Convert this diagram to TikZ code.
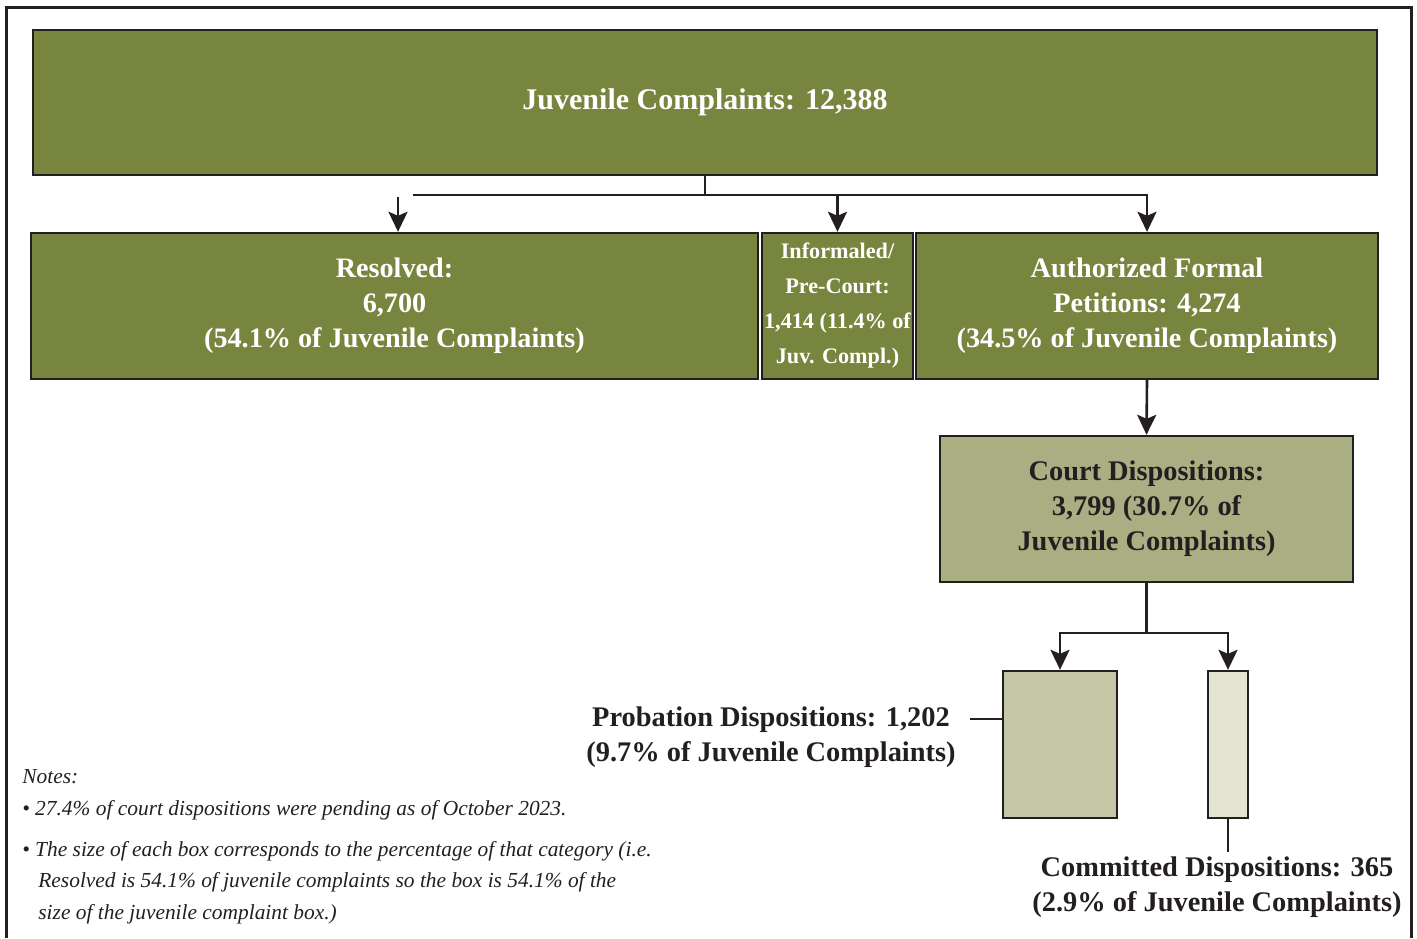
\documentclass[tikz,border=0pt]{standalone}
\usepackage{fontspec}
\setmainfont{Liberation Serif}
\usetikzlibrary{arrows.meta}

\definecolor{inkdark}{HTML}{231F20}
\definecolor{compgreen}{HTML}{78853E}
\definecolor{courtgreen}{HTML}{A9AF82}
\definecolor{probgreen}{HTML}{C5C7A7}
\definecolor{commitgreen}{HTML}{E2E3D3}

\tikzset{
  box/.style={draw=inkdark, line width=1.2pt, inner sep=0pt, align=center},
  bigbox/.style={box, fill=compgreen, text=white, font=\bfseries\fontsize{14.1}{17.5}\selectfont},
  smallbox/.style={box, fill=compgreen, text=white, font=\bfseries\fontsize{11.1}{17.5}\selectfont},
  courtbox/.style={box, fill=courtgreen, text=inkdark, font=\bfseries\fontsize{14.2}{17.5}\selectfont},
  outtext/.style={align=center, inner sep=0pt, text=inkdark, font=\bfseries\fontsize{14.2}{17.5}\selectfont},
  notetext/.style={anchor=base west, inner sep=0pt, text=inkdark, font=\itshape\fontsize{10.7}{16}\selectfont},
  link/.style={draw=inkdark, line width=1.3pt},
  arr/.style={link, -{Stealth[length=10pt, width=9.5pt, inset=2pt]}},
  frame/.style={draw=inkdark, line width=1.5pt}
}

\begin{document}
\begin{tikzpicture}[x=0.5pt,y=-0.5pt]
\useasboundingbox (0,0) rectangle (1417,938);
\draw[frame] (6,938) -- (6,7) -- (1411,7) -- (1411,938);

\node[bigbox, font=\bfseries\fontsize{15}{17.5}\selectfont, minimum width=672pt, minimum height=72.5pt] (complaints) at (705,102.5) {Juvenile Complaints: 12,388};
\node[bigbox, minimum width=363.5pt, minimum height=73pt] (resolved) at (394.5,306) {Resolved:\\6,700\\(54.1\% of Juvenile Complaints)};
\node[smallbox, minimum width=75.5pt, minimum height=73pt] (pre) at (837.5,306) {Informaled/\\Pre-Court:\\1,414 (11.4\% of\\Juv. Compl.)};
\node[bigbox, minimum width=231pt, minimum height=73pt] (formal) at (1147,306) {Authorized Formal\\Petitions: 4,274\\(34.5\% of Juvenile Complaints)};
\node[courtbox, minimum width=206.5pt, minimum height=73pt] (court) at (1146.5,509) {Court Dispositions:\\3,799 (30.7\% of\\Juvenile Complaints)};
\node[box, fill=probgreen, minimum width=57pt, minimum height=73.5pt] (probation) at (1060,744.5) {};
\node[box, fill=commitgreen, minimum width=20pt, minimum height=73.5pt] (committed) at (1228,744.5) {};

\coordinate (fork) at (705,195);
\coordinate (forkend) at (413,195);
\coordinate (resstart) at (398,197);
\draw[link] (complaints.south) -- (fork) -- (forkend);
\draw[arr] (fork) -| (pre.north);
\draw[arr] (fork) -| (formal.north);
\draw[arr] (resstart) -- (resstart |- resolved.north);
\draw[arr] (formal.south) -- (court.north);

\coordinate (split) at (1146.5,633);
\draw[link] (court.south) -- (split);
\draw[arr] (split) -| (probation.north);
\draw[arr] (split) -| (committed.north);

\coordinate (probtick) at (970,719);
\draw[link] (probtick) -- (probtick -| probation.west);
\node[outtext] (problabel) at (771,737) {Probation Dispositions: 1,202\\(9.7\% of Juvenile Complaints)};
\coordinate (comtick) at (1228,852);
\draw[link] (committed.south) -- (comtick);
\node[outtext] (comlabel) at (1217,887) {Committed Dispositions: 365\\(2.9\% of Juvenile Complaints)};

\node[notetext] (notes) at (22,783) {Notes:};
\node[notetext] (note1) at (22,815) {\textbullet\ 27.4\% of court dispositions were pending as of October 2023.};
\node[notetext] (note2a) at (22,856) {\textbullet\ The size of each box corresponds to the percentage of that category (i.e.};
\node[notetext] (note2b) at (38,887) {Resolved is 54.1\% of juvenile complaints so the box is 54.1\% of the};
\node[notetext] (note2c) at (38,919) {size of the juvenile complaint box.)};
\end{tikzpicture}
\end{document}
